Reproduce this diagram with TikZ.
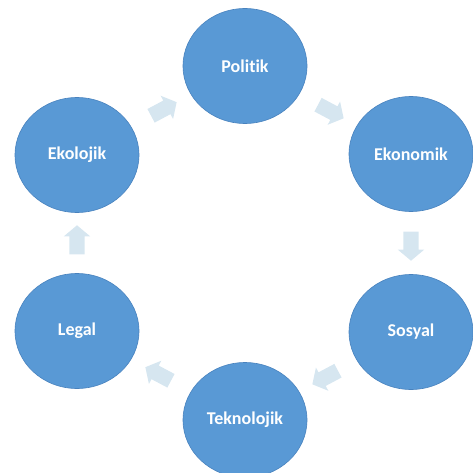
\documentclass[tikz,border=0pt]{standalone}
\usepackage{fontspec}
\setmainfont[Ligatures={NoCommon}]{Carlito}
\usetikzlibrary{shapes.geometric,shapes.arrows,calc}
\definecolor{cblue}{RGB}{89,153,213}
\definecolor{cedge}{RGB}{72,130,190}
\definecolor{apale}{RGB}{214,230,240}
\begin{document}
\begin{tikzpicture}[x=1pt,y=-1pt,
  bubble/.style={ellipse,fill=cblue,draw=cedge,line width=0.6pt,minimum width=124pt,minimum height=115pt,inner sep=0pt,text=white,font=\fontsize{18}{21}\selectfont\bfseries},
  cyc/.style={single arrow,fill=apale,draw=none,minimum height=29pt,inner xsep=0pt,inner ysep=7.5pt,single arrow head extend=5.5pt,single arrow tip angle=100}]
\useasboundingbox (0,0) rectangle (473,473);
\node[bubble] (pol) at (245,66) {Politik};
\node[bubble] (eko) at (411,154) {Ekonomik};
\node[bubble] (sos) at (411,332) {Sosyal};
\node[bubble] (tek) at (245,420) {Teknolojik};
\node[bubble] (leg) at (77,331) {Legal};
\node[bubble] (ekl) at (77,155) {Ekolojik};
\node[cyc,rotate=-28] (a1) at ($(pol)!0.5!(eko)$) {};
\node[cyc,rotate=-90] (a2) at ($(eko)!0.5!(sos)$) {};
\node[cyc,rotate=208] (a3) at ($(sos)!0.5!(tek)$) {};
\node[cyc,rotate=152] (a4) at ($(tek)!0.5!(leg)$) {};
\node[cyc,rotate=90] (a5) at ($(leg)!0.5!(ekl)$) {};
\node[cyc,rotate=28] (a6) at ($(ekl)!0.5!(pol)$) {};
\end{tikzpicture}
\end{document}
